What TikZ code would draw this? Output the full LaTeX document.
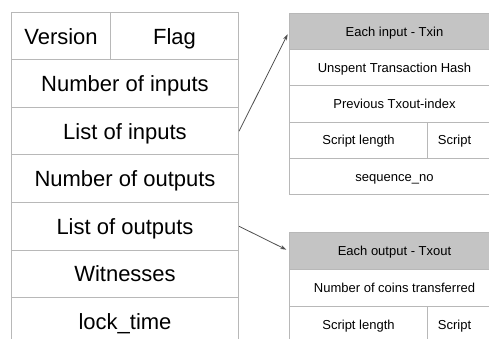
\documentclass[tikz,border=0pt]{standalone}
\usepackage{fontspec}
\setmainfont{Liberation Sans}
\usetikzlibrary{arrows.meta}
\definecolor{gridline}{HTML}{B8B8B8}
\definecolor{headfill}{HTML}{C4C4C4}
\definecolor{arrowcol}{HTML}{505050}
\tikzset{
  cell/.style={draw=gridline, line width=1pt, rectangle, inner sep=0pt, anchor=north west,
    text=black, text depth=0pt},
  bigcell/.style={cell, font=\fontsize{22}{26}\selectfont, text height=15.8pt, minimum height=47.5pt},
  smalltext/.style={font=\fontsize{13}{16}\selectfont, text=black, text height=9.3pt, text depth=0pt, inner sep=0pt},
  smallcell/.style={cell, font=\fontsize{13}{16}\selectfont, text height=9.3pt, minimum height=36.2pt},
  headcell/.style={smallcell, fill=headfill},
  link/.style={draw=arrowcol, line width=0.8pt, -{Stealth[length=6pt,width=4pt]}, shorten >=3pt}
}
\begin{document}
\begin{tikzpicture}[x=1pt,y=-1pt]
\clip (0,0) rectangle (489,339);
\fill[white] (0,0) rectangle (489,339);

% transaction layout
\node[bigcell, minimum width=99pt]  (ver)  at (11,12)    {Version};
\node[bigcell, minimum width=128pt] (flag) at (110,12)   {Flag};
\node[bigcell, minimum width=227pt] (nin)  at (11,59.5)  {Number of inputs};
\node[bigcell, minimum width=227pt] (lin)  at (11,107)   {List of inputs};
\node[bigcell, minimum width=227pt] (nout) at (11,154.5) {Number of outputs};
\node[bigcell, minimum width=227pt] (lout) at (11,202)   {List of outputs};
\node[bigcell, minimum width=227pt] (wit)  at (11,249.5) {Witnesses};
\node[bigcell, minimum width=227pt] (lock) at (11,297)   {lock\_time};

% input record
\node[headcell,  minimum width=210pt] (hin)  at (289,13)    {Each input - Txin};
\node[smallcell, minimum width=210pt] (uth)  at (289,49.2)  {Unspent Transaction Hash};
\node[smallcell, minimum width=210pt] (pti)  at (289,85.4)  {Previous Txout-index};
\node[smallcell, minimum width=138pt] (isl)  at (289,121.6) {Script length};
\node[smallcell, minimum width=72pt,
      label={[smalltext, xshift=-9pt]center:Script}] (isc) at (427,121.6) {};
\node[smallcell, minimum width=210pt] (seq)  at (289,157.8) {sequence\_no};

% output record
\node[headcell,  minimum width=210pt, minimum height=37pt] (hout) at (289,232) {Each output - Txout};
\node[smallcell, minimum width=210pt, minimum height=37pt] (coin) at (289,269) {Number of coins transferred};
\node[smallcell, minimum width=138pt, minimum height=37pt] (osl)  at (289,306) {Script length};
\node[smallcell, minimum width=72pt,  minimum height=37pt,
      label={[smalltext, xshift=-9pt]center:Script}] (osc) at (427,306) {};

% links
\draw[link] (lin.east) -- (hin.west);
\draw[link] (lout.east) -- (hout.west);
\end{tikzpicture}
\end{document}
